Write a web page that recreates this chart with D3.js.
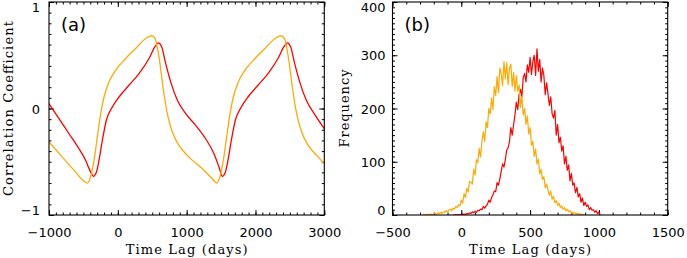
<!DOCTYPE html>
<html>
<head>
<meta charset="utf-8">
<script src="https://cdn.jsdelivr.net/npm/d3@7"></script>
<style>
  body { margin: 0; background: #fff; }
  svg { display: block; }
</style>
</head>
<body>
<div id="chart"></div>
<script>
const width = 687;
const height = 258;

// panel (a): cross-correlation vs time lag
const redLag = [-1000,-855,-709,-564,-467,-395,-356,-312,-274,-225,-167,-80,17,162,308,453,540,589,637,695,768,865,986,1131,1276,1397,1470,1518,1562,1600,1649,1707,1794,1891,2036,2182,2327,2414,2463,2511,2569,2642,2739,2860,3000];
const redCorr = [0.046,-0.095,-0.237,-0.378,-0.488,-0.598,-0.636,-0.598,-0.488,-0.30,-0.11,0.014,0.108,0.218,0.328,0.47,0.58,0.617,0.58,0.423,0.25,0.077,-0.048,-0.158,-0.284,-0.425,-0.55,-0.636,-0.598,-0.488,-0.30,-0.11,0.014,0.108,0.218,0.328,0.47,0.58,0.617,0.58,0.423,0.25,0.077,-0.055,-0.19];

const orangeLag = [-1000,-806,-613,-516,-443,-395,-346,-298,-249,-201,-128,-31,114,259,405,492,540,598,656,719,792,889,1034,1228,1373,1436,1484,1533,1581,1630,1678,1751,1848,1993,2138,2284,2371,2419,2477,2535,2598,2671,2768,2913,3000];
const orangeCorr = [-0.315,-0.457,-0.598,-0.67,-0.70,-0.64,-0.488,-0.268,-0.048,0.108,0.25,0.36,0.47,0.564,0.658,0.683,0.658,0.485,0.202,-0.048,-0.221,-0.347,-0.457,-0.566,-0.66,-0.70,-0.64,-0.488,-0.268,-0.048,0.108,0.25,0.36,0.47,0.564,0.658,0.683,0.658,0.485,0.202,-0.048,-0.221,-0.347,-0.457,-0.52];

// panel (b): histograms of lag, 10-day bins
const orangeStart = -280;
const orangeFreq = [
  0,1,0,1,1,0,2,1,2,3,1,4,3,5,3,6,5,8,6,9,11,8,13,11,16,14,19,17,
  28,22,40,33,50,43,63,62,58,86,
  75,104,98,125,109,139,156,138,175,164,
  200,190,220,198,241,224,260,230,276,265,
  243,288,256,286,245,276,283,241,268,233,
  262,232,244,202,223,188,200,170,186,152,
  164,131,138,110,124,96,105,77,86,67,
  72,51,58,47,37,45,30,35,23,27,
  18,22,14,17,11,14,8,11,6,8,
  4,5,3,4,2,3,1,2,0,1,0
];
const redStart = -60;
const redFreq = [
  0,0,1,0,1,0,
  1,0,2,1,3,2,4,3,6,4,
  7,5,9,8,11,10,16,13,17,20,
  28,24,33,38,45,44,61,56,68,82,
  96,90,104,122,126,138,164,150,170,188,
  212,198,226,236,222,258,266,250,282,268,
  296,264,288,300,262,312,270,292,250,276,
  262,226,248,228,206,222,190,182,196,150,
  170,136,146,120,130,96,110,84,94,64,
  78,56,60,42,52,34,40,24,32,18,
  24,16,19,10,14,9,10,5,8,3,
  5,0
];
const binWidth = 10;

const xTicksA = [-1000, 0, 1000, 2000, 3000];
const yTicksA = [-1, 0, 1];
const xTicksB = [-500, 0, 500, 1000, 1500];
const yTicksB = [0, 100, 200, 300, 400];

const RED = "#ff0000";
const ORANGE = "#ffaa00";

const svg = d3.select("#chart").append("svg")
  .attr("width", width)
  .attr("height", height)
  .style("font-family", "'DejaVu Sans', sans-serif");

const plotTop = 2, plotBottom = 215;

function drawPanel(opts) {
  const x = d3.scaleLinear().domain(opts.xDomain).range(opts.xRange);
  const y = d3.scaleLinear().domain(opts.yDomain).range([plotBottom, plotTop]);
  const g = svg.append("g");

  const minorX = d3.range(opts.xDomain[0], opts.xDomain[1] + 1e-9, opts.xMinor);
  const minorY = d3.range(opts.yDomain[0], opts.yDomain[1] + 1e-9, opts.yMinor);

  // minor ticks, all four sides
  g.append("g").attr("transform", `translate(0,${plotBottom})`)
    .call(d3.axisBottom(x).tickValues(minorX).tickSize(-2.5).tickFormat(""));
  g.append("g").attr("transform", `translate(0,${plotTop})`)
    .call(d3.axisTop(x).tickValues(minorX).tickSize(-2.5).tickFormat(""));
  g.append("g").attr("transform", `translate(${opts.xRange[0]},0)`)
    .call(d3.axisLeft(y).tickValues(minorY).tickSize(-2.5).tickFormat(""));
  g.append("g").attr("transform", `translate(${opts.xRange[1]},0)`)
    .call(d3.axisRight(y).tickValues(minorY).tickSize(-2.5).tickFormat(""));

  // major ticks
  g.append("g").attr("transform", `translate(0,${plotTop})`)
    .call(d3.axisTop(x).tickValues(opts.xTicks).tickSize(-5).tickFormat(""));
  g.append("g").attr("transform", `translate(${opts.xRange[1]},0)`)
    .call(d3.axisRight(y).tickValues(opts.yTicks).tickSize(-5).tickFormat(""));

  const xAxis = g.append("g").attr("transform", `translate(0,${plotBottom})`)
    .call(d3.axisBottom(x).tickValues(opts.xTicks).tickSize(-5).tickPadding(13)
      .tickFormat(d3.format("d")));
  xAxis.selectAll("text").attr("font-size", 13).attr("font-family", "'DejaVu Sans', sans-serif")
    .attr("fill", "#000").attr("dy", "0.71em");

  const yAxis = g.append("g").attr("transform", `translate(${opts.xRange[0]},0)`)
    .call(d3.axisLeft(y).tickValues(opts.yTicks).tickSize(-5).tickPadding(opts.yPad)
      .tickFormat(d3.format("d")));
  const n = opts.yTicks.length;
  yAxis.selectAll("text").attr("font-size", 13).attr("font-family", "'DejaVu Sans', sans-serif")
    .attr("fill", "#000")
    .attr("dy", (d, i) => i === 0 ? "-0.05em" : i === n - 1 ? "0.72em" : "0.35em");

  g.selectAll(".domain").remove();
  g.selectAll(".tick line").attr("stroke", "#000").attr("stroke-width", 1);

  // data
  const clipId = "clip" + opts.label;
  svg.append("clipPath").attr("id", clipId).append("rect")
    .attr("x", opts.xRange[0]).attr("y", plotTop)
    .attr("width", opts.xRange[1] - opts.xRange[0]).attr("height", plotBottom - plotTop);
  const plot = g.append("g").attr("clip-path", `url(#${clipId})`);
  opts.series.forEach(s => {
    const line = d3.line()
      .curve(s.curve)
      .x(d => x(d[0]))
      .y(d => y(d[1]));
    plot.append("path")
      .datum(s.points)
      .attr("fill", "none")
      .attr("stroke", s.color)
      .attr("stroke-width", s.width)
      .attr("stroke-linejoin", "round")
      .attr("d", line);
  });

  // frame
  g.append("rect")
    .attr("x", opts.xRange[0]).attr("y", plotTop)
    .attr("width", opts.xRange[1] - opts.xRange[0]).attr("height", plotBottom - plotTop)
    .attr("fill", "none").attr("stroke", "#000").attr("stroke-width", 1.1);

  // panel label
  g.append("text")
    .attr("x", opts.xRange[0] + 12).attr("y", 31)
    .attr("font-size", 18)
    .text("(" + opts.label + ")");

  // axis titles
  const mid = (opts.xRange[0] + opts.xRange[1]) / 2;
  g.append("text")
    .attr("x", mid).attr("y", 254)
    .attr("text-anchor", "middle")
    .attr("font-family", "'DejaVu Serif', serif")
    .attr("font-size", 13)
    .attr("textLength", 122)
    .attr("lengthAdjust", "spacing")
    .text("Time Lag (days)");
  g.append("text")
    .attr("transform", `translate(${opts.yTitleX},${(plotTop + plotBottom) / 2}) rotate(-90)`)
    .attr("text-anchor", "middle")
    .attr("font-family", "'DejaVu Serif', serif")
    .attr("font-size", 13)
    .attr("textLength", opts.yTitleLen)
    .attr("lengthAdjust", "spacing")
    .text(opts.yTitle);
}

drawPanel({
  label: "a",
  xDomain: [-1000, 3000], xRange: [49, 324.3],
  yDomain: [-1, 1],
  xTicks: xTicksA, yTicks: yTicksA,
  xMinor: 100, yMinor: 0.1,
  yPad: 9, yTitleX: 12.5, yTitleLen: 175,
  yTitle: "Correlation Coefficient",
  series: [
    { points: redLag.map((d, i) => [d, redCorr[i]]), color: RED, width: 1.3, curve: d3.curveMonotoneX },
    { points: orangeLag.map((d, i) => [d, orangeCorr[i]]), color: ORANGE, width: 1.3, curve: d3.curveMonotoneX }
  ]
});

drawPanel({
  label: "b",
  xDomain: [-500, 1500], xRange: [392.5, 667.7],
  yDomain: [0, 400],
  xTicks: xTicksB, yTicks: yTicksB,
  xMinor: 100, yMinor: 10,
  yPad: 7, yTitleX: 349, yTitleLen: 78,
  yTitle: "Frequency",
  series: [
    { points: redFreq.map((v, i) => [redStart + i * binWidth, v]), color: RED, width: 1.2, curve: d3.curveLinear },
    { points: orangeFreq.map((v, i) => [orangeStart + i * binWidth, v]), color: ORANGE, width: 1.2, curve: d3.curveLinear }
  ]
});
</script>
</body>
</html>
